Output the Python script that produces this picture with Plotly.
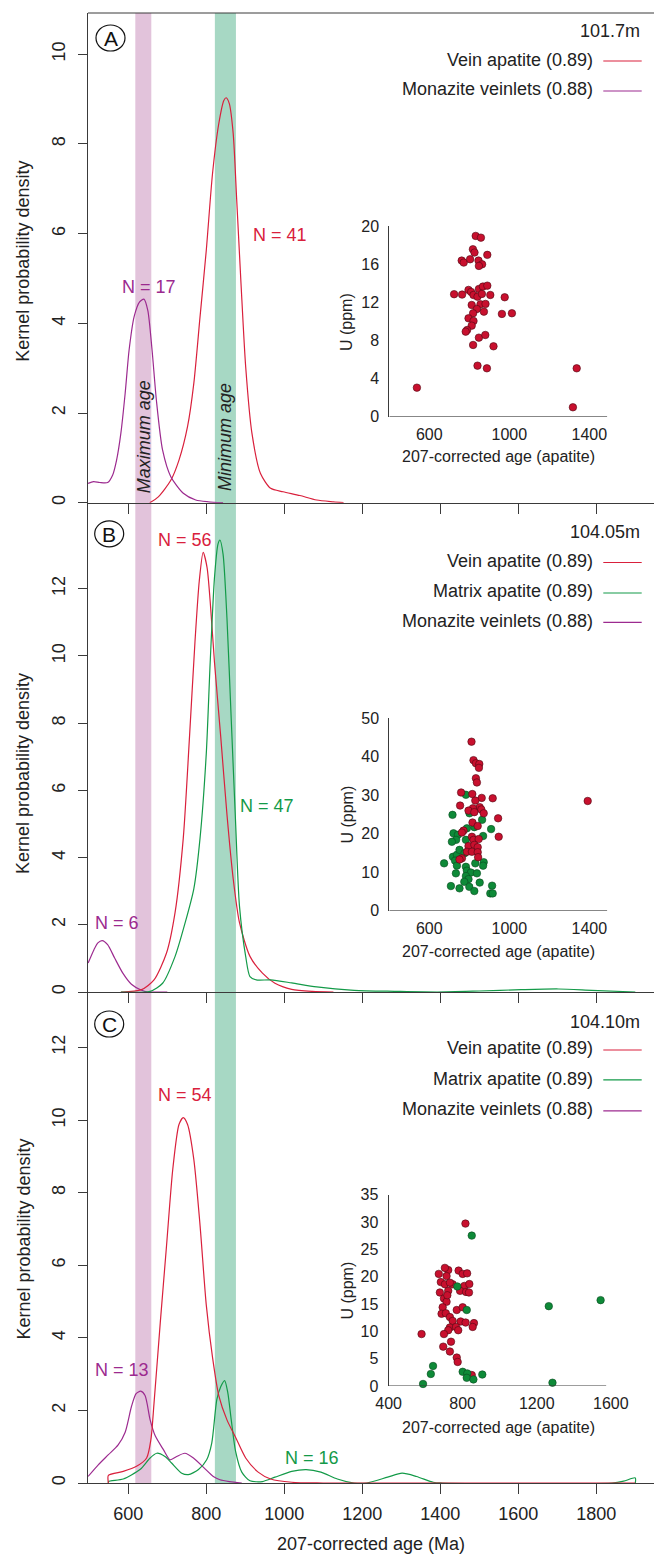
import plotly.graph_objects as go

# ---------------------------------------------------------------- data
# Kernel density curves (age in Ma, density)
a_vein_age = [655, 677, 709, 730, 752, 768, 784, 800, 816, 832, 845, 851, 859, 869, 878, 889, 901, 917, 939, 965, 997, 1040, 1083, 1126, 1152]
a_vein_dens = [0.0, 0.13, 0.5, 0.95, 1.7, 2.66, 4.15, 5.63, 7.34, 8.45, 8.97, 9.03, 8.9, 8.23, 6.75, 4.89, 3.03, 1.55, 0.65, 0.32, 0.245, 0.16, 0.06, 0.02, 0.0]
a_mnz_age = [497, 511, 527, 547, 560, 570, 581, 592, 602, 615, 629, 640, 650, 661, 672, 688, 709, 741, 773, 805, 843]
a_mnz_dens = [0.43, 0.47, 0.45, 0.45, 0.62, 0.95, 1.55, 2.44, 3.40, 4.15, 4.48, 4.54, 4.29, 3.40, 2.29, 1.17, 0.58, 0.21, 0.06, 0.02, 0.0]

b_vein_age = [581, 634, 666, 698, 720, 741, 757, 771, 782, 792, 802, 810, 821, 837, 853, 869, 885, 912, 944, 976, 1019, 1072, 1126]
b_vein_dens = [0.0, 0.07, 0.36, 1.16, 2.37, 4.58, 7.60, 10.42, 12.23, 13.08, 12.63, 11.62, 9.81, 7.60, 5.28, 3.37, 2.07, 1.06, 0.56, 0.26, 0.08, 0.02, 0.0]
b_mtx_age = [581, 656, 688, 720, 746, 768, 784, 800, 810, 821, 830, 835, 843, 853, 864, 875, 885, 901, 912, 928, 965, 1019, 1083, 1179, 1286, 1393, 1500, 1607, 1703, 1788, 1900]
b_mtx_dens = [0.0, 0.02, 0.26, 1.06, 2.07, 3.07, 4.58, 7.10, 9.81, 12.33, 13.33, 13.45, 13.03, 11.12, 8.10, 5.08, 2.57, 1.06, 0.46, 0.36, 0.36, 0.27, 0.15, 0.05, 0.02, 0.0, 0.03, 0.07, 0.09, 0.05, 0.0]
b_mnz_age = [497, 512, 522, 533, 547, 565, 586, 608, 634, 650, 700]
b_mnz_dens = [0.86, 1.26, 1.46, 1.53, 1.41, 1.01, 0.56, 0.23, 0.05, 0.0, 0.0]

c_vein_age = [549, 549, 587, 621, 647, 658, 666, 682, 698, 714, 730, 741, 752, 768, 784, 800, 816, 832, 853, 875, 901, 933, 965, 1019, 1100, 1900, 1900]
c_vein_dens = [0.0, 0.21, 0.32, 0.46, 0.69, 1.2, 2.2, 4.42, 6.53, 8.64, 9.88, 10.07, 9.88, 8.92, 7.10, 4.90, 3.46, 2.41, 1.74, 1.26, 0.69, 0.30, 0.11, 0.02, 0.0, 0.0, 0.0]
c_mtx_age = [549, 549, 587, 630, 656, 673, 694, 711, 737, 754, 780, 801, 814, 827, 837, 847, 855, 864, 875, 891, 912, 944, 976, 1019, 1056, 1094, 1136, 1179, 1211, 1265, 1302, 1339, 1382, 1404, 1840, 1870, 1900, 1900]
c_mtx_dens = [0.0, 0.04, 0.11, 0.37, 0.69, 0.82, 0.73, 0.55, 0.27, 0.23, 0.37, 0.64, 1.1, 2.3, 2.65, 2.82, 2.5, 1.74, 0.88, 0.30, 0.06, 0.04, 0.16, 0.32, 0.37, 0.30, 0.11, 0.0, 0.0, 0.16, 0.27, 0.18, 0.02, 0.0, 0.0, 0.05, 0.14, 0.0]
c_mnz_age = [497, 523, 549, 574, 592, 608, 620, 632, 643, 656, 669, 690, 707, 724, 745, 767, 795, 818, 835, 859, 891]
c_mnz_dens = [0.18, 0.5, 0.78, 1.05, 1.4, 2.1, 2.46, 2.53, 2.41, 1.74, 1.3, 0.92, 0.64, 0.73, 0.82, 0.69, 0.41, 0.18, 0.09, 0.04, 0.0]

# U concentration vs 207-corrected apatite age (inset scatter)
ia_vein_age = [832, 858, 818, 826, 890, 762, 772, 804, 846, 864, 848, 724, 764, 796, 809, 821, 841, 848, 868, 890, 863, 905, 977,
               812, 856, 881, 838, 819, 873, 963, 1013, 796, 821, 812, 789, 782, 848, 880, 819, 921, 841, 888, 538, 1337, 1318]
ia_vein_u = [18.98, 18.8, 17.58, 17.23, 16.99, 16.39, 16.18, 16.53, 16.39, 16.0, 15.83, 12.86, 12.82, 13.31, 13.1, 12.78, 12.6, 13.41,
             13.66, 13.76, 12.89, 12.78, 12.54, 11.73, 11.8, 11.84, 11.31, 10.86, 11.03, 10.79, 10.86, 10.33, 10.05, 9.56, 9.1, 8.93,
             8.3, 8.58, 7.53, 7.39, 5.36, 5.08, 3.05, 5.08, 0.99]

ib_vein_age = [811, 821, 833, 850, 848, 833, 838, 759, 815, 862, 917, 830, 754, 852, 818, 796, 860, 825, 872, 944, 816, 842, 771,
               763, 947, 813, 821, 847, 796, 825, 842, 788, 813, 842, 763, 751, 844, 1392]
ib_vein_u = [43.9, 39.1, 38.3, 38.1, 37.1, 34.4, 33.3, 30.7, 30.3, 29.3, 29.2, 28.6, 27.3, 26.9, 26.6, 26.0, 26.3, 25.6, 25.3, 24.0,
             22.9, 22.0, 20.8, 20.3, 19.2, 19.2, 18.4, 18.6, 16.8, 17.1, 16.5, 15.3, 15.3, 15.2, 13.6, 13.3, 13.9, 28.5]
ib_mtx_age = [783, 716, 801, 864, 788, 825, 909, 721, 743, 734, 869, 783, 718, 738, 751, 729, 674, 738, 783, 830, 872, 869, 788,
              733, 808, 838, 783, 796, 775, 852, 708, 800, 914, 751, 825, 905, 917, 713, 776]
ib_mtx_u = [30.1, 24.9, 25.3, 23.6, 21.4, 21.7, 21.2, 20.1, 19.7, 18.4, 19.4, 18.4, 14.0, 14.5, 15.8, 13.0, 12.3, 11.7, 11.4, 12.3,
            12.6, 11.7, 10.4, 9.7, 9.9, 9.7, 9.0, 8.2, 7.5, 7.3, 6.4, 6.2, 6.5, 5.8, 5.1, 4.5, 4.5, 17.9, 14.9]

ic_vein_age = [722, 704, 671, 713, 778, 800, 824, 682, 704, 746, 731, 809, 836, 677, 722, 786, 818, 834, 699, 713, 692, 768, 800,
               686, 709, 731, 746, 789, 816, 861, 854, 731, 764, 776, 722, 699, 578, 737, 695, 731, 768, 773, 849, 815, 717]
ic_vein_u = [21.2, 21.6, 20.5, 20.1, 21.1, 20.5, 20.6, 19.0, 18.6, 18.6, 18.9, 18.3, 18.65, 17.1, 17.4, 17.4, 17.2, 17.1, 16.0, 15.4,
             14.4, 13.9, 14.4, 13.2, 13.3, 12.6, 11.9, 11.8, 11.6, 11.5, 10.8, 10.7, 10.8, 10.2, 10.2, 9.5, 9.5, 8.1, 7.2, 6.3, 5.2,
             4.4, 2.0, 29.7, 16.6]
ic_mtx_age = [849, 771, 822, 1265, 1545, 640, 628, 586, 800, 825, 822, 858, 906, 1285]
ic_mtx_u = [27.5, 18.2, 13.9, 14.6, 15.7, 3.66, 2.2, 0.37, 2.6, 2.3, 1.5, 1.2, 2.1, 0.6]

# age windows (Ma)
max_age_band = [618, 659]
min_age_band = [822, 876]

age_ticks = [600, 800, 1000, 1200, 1400, 1600, 1800]
panel_labels = ["A", "B", "C"]
depths = ["101.7m", "104.05m", "104.10m"]
n_labels = {
    "A": [("N = 17", "mnz"), ("N = 41", "vein")],
    "B": [("N = 56", "vein"), ("N = 47", "mtx"), ("N = 6", "mnz")],
    "C": [("N = 54", "vein"), ("N = 13", "mnz"), ("N = 16", "mtx")],
}
legend_names = {"vein": "Vein apatite (0.89)", "mtx": "Matrix apatite (0.89)", "mnz": "Monazite veinlets (0.88)"}

# ---------------------------------------------------------------- layout helpers
W, H = 654, 1555
ML, MR, MT, MB = 88, 0, 13, 72
PW, PH = W - ML - MR, H - MT - MB


def px(x):
    return (x - ML) / PW


def py(y):
    return (H - MB - y) / PH


def clamp(v):
    return min(1.0, max(0.0, v))


FONT = "Liberation Sans, Arial, sans-serif"
AXIS = "#3a3a3a"
COL = {"vein": "#D9203C", "mtx": "#139A48", "mnz": "#9C2A8F"}
PT_FILL = {"vein": "#C8102E", "mtx": "#0E8A38"}
PT_EDGE = {"vein": "#4d0812", "mtx": "#0a4a20"}
PINK_BAND = "#E2C3DB"
GREEN_BAND = "#A7D8C4"

fig = go.Figure()

# main KDE panels: (x axis, y axis, y extent in px, y max, y ticks)
panels = {
    "A": ("x", "y", (12.7, 502.7), 10.92, [0, 2, 4, 6, 8, 10]),
    "B": ("x2", "y2", (502.7, 992.0), 14.56, [0, 2, 4, 6, 8, 10, 12]),
    "C": ("x3", "y3", (992.0, 1483.0), 13.53, [0, 2, 4, 6, 8, 10, 12]),
}
curves = {
    "A": [("vein", a_vein_age, a_vein_dens), ("mnz", a_mnz_age, a_mnz_dens)],
    "B": [("mnz", b_mnz_age, b_mnz_dens), ("vein", b_vein_age, b_vein_dens), ("mtx", b_mtx_age, b_mtx_dens)],
    "C": [("mnz", c_mnz_age, c_mnz_dens), ("mtx", c_mtx_age, c_mtx_dens), ("vein", c_vein_age, c_vein_dens)],
}
for key, (xa, ya, _, _, _) in panels.items():
    for kind, ages, dens in curves[key]:
        fig.add_trace(go.Scatter(x=ages, y=dens, xaxis=xa, yaxis=ya, mode="lines",
                                 line=dict(color=COL[kind], width=1.2, shape="spline", smoothing=0.7),
                                 hoverinfo="skip", showlegend=False))

AGE_RANGE = [496.7, 496.7 + PW / 0.39]
layout_axes = {}
for key, (xa, ya, (top, bot), ymax, yticks) in panels.items():
    xname = "xaxis" + ("" if xa == "x" else xa[1:])
    yname = "yaxis" + ("" if ya == "y" else ya[1:])
    layout_axes[xname] = dict(
        domain=[0, 1], range=AGE_RANGE, anchor=ya, showline=True, linecolor=AXIS, linewidth=1,
        ticks="outside", ticklen=10, tickwidth=1, tickcolor=AXIS, tickvals=age_ticks,
        showticklabels=(key == "C"), tickfont=dict(family=FONT, size=18, color="#222"),
        ticklabelstandoff=4, showgrid=False, zeroline=False, fixedrange=True)
    layout_axes[yname] = dict(
        domain=[clamp(py(bot)), clamp(py(top))], range=[0, ymax], anchor=xa, showline=True, linecolor=AXIS,
        linewidth=1, ticks="outside", ticklen=9, tickwidth=1, tickcolor=AXIS, tickvals=yticks,
        tickangle=-90, tickfont=dict(family=FONT, size=18, color="#222"), ticklabelstandoff=6,
        showgrid=False, zeroline=False, fixedrange=True)

# inset scatter plots: px box (left, right, top, bottom), x range, x line end, y range, ticks
insets = {
    "A": ("x4", "y4", (389.3, 607.3, 226.2, 416.7), [400, 1490], 1490, [0, 20], [600, 1000, 1400], [0, 4, 8, 12, 16, 20],
          [("vein", ia_vein_age, ia_vein_u)]),
    "B": ("x5", "y5", (389.3, 607.3, 718.2, 910.7), [400, 1490], 1490, [0, 50], [600, 1000, 1400], [0, 10, 20, 30, 40, 50],
          [("mtx", ib_mtx_age, ib_mtx_u), ("vein", ib_vein_age, ib_vein_u)]),
    "C": ("x6", "y6", (388.6, 610.8, 1194.6, 1386.0), [400, 1600], 1575, [0, 35], [400, 800, 1200, 1600],
          [0, 5, 10, 15, 20, 25, 30, 35], [("vein", ic_vein_age, ic_vein_u), ("mtx", ic_mtx_age, ic_mtx_u)]),
}
shapes = []
for key, (xa, ya, (l, r, t, b), xr, xend, yr, xt, yt, series) in insets.items():
    for kind, ages, u in series:
        fig.add_trace(go.Scatter(x=ages, y=u, xaxis=xa, yaxis=ya, mode="markers",
                                 marker=dict(size=7.5, color=PT_FILL[kind], line=dict(color=PT_EDGE[kind], width=0.6)),
                                 cliponaxis=False, hoverinfo="skip", showlegend=False))
    layout_axes["xaxis" + xa[1:]] = dict(
        domain=[clamp(px(l)), clamp(px(r))], range=xr, anchor=ya, showline=False, ticks="",
        tickvals=xt, tickfont=dict(family=FONT, size=16, color="#222"), ticklabelstandoff=6,
        showgrid=False, zeroline=False, fixedrange=True)
    layout_axes["yaxis" + ya[1:]] = dict(
        domain=[clamp(py(b)), clamp(py(t))], range=yr, anchor=xa, showline=True, linecolor=AXIS, linewidth=1,
        ticks="", tickvals=yt, tickfont=dict(family=FONT, size=16, color="#222"), ticklabelstandoff=6,
        showgrid=False, zeroline=False, fixedrange=True)
    # inset age axis line, running from the left edge to its end value
    shapes.append(dict(type="line", xref=xa, yref=ya, x0=xr[0], x1=xend, y0=yr[0], y1=yr[0],
                       line=dict(color=AXIS, width=1)))

# age windows spanning all three panels
for band, colr in ((max_age_band, PINK_BAND), (min_age_band, GREEN_BAND)):
    shapes.append(dict(type="rect", xref="x3", yref="paper", x0=band[0], x1=band[1], y0=0, y1=1,
                       fillcolor=colr, line=dict(width=0), layer="below"))
# top frame line
shapes.append(dict(type="line", xref="paper", yref="paper", x0=0, x1=1, y0=1, y1=1,
                   line=dict(color=AXIS, width=1)))

annotations = []


def text(s, x, y, size=18, color="#222", angle=0, xanchor="center", italic=False):
    annotations.append(dict(text=s, x=px(x), y=py(y), xref="paper", yref="paper", showarrow=False,
                            xanchor=xanchor, yanchor="middle", textangle=angle,
                            font=dict(family=FONT, size=size, color=color,
                                      style="italic" if italic else "normal")))


# circled panel letters
circle_pos = {"A": (110.5, 38.0), "B": (109.2, 533.8), "C": (109.2, 1024.0)}
for key, (cx, cy) in circle_pos.items():
    shapes.append(dict(type="circle", xref="paper", yref="paper", x0=px(cx - 14.5), x1=px(cx + 14.5),
                       y0=py(cy + 13), y1=py(cy - 13), line=dict(color="#111", width=1.2)))
    text(key, cx, cy + 0.5, size=21, color="#111")

# legends (depth + series lines)
legend_rows = {
    "A": (31.2, [("vein", 59.5, 61.0), ("mnz", 89.5, 91.0)]),
    "B": (532.0, [("vein", 560.9, 562.5), ("mtx", 591.3, 593.0), ("mnz", 620.7, 622.4)]),
    "C": (1022.0, [("vein", 1048.2, 1050.0), ("mtx", 1078.8, 1079.8), ("mnz", 1109.0, 1110.8)]),
}
for key, depth in zip(panel_labels, depths):
    ty, rows = legend_rows[key]
    text(depth, 641.7, ty, size=18, xanchor="right")
    for kind, yt_, yl in rows:
        text(legend_names[kind], 595, yt_, size=18, xanchor="right")
        shapes.append(dict(type="line", xref="paper", yref="paper", x0=px(603.3), x1=px(641.7),
                           y0=py(yl), y1=py(yl), line=dict(color=COL[kind], width=1.2)))

# N labels next to curves
n_pos = {
    "A": [(149, 287), (279.5, 235)],
    "B": [(185.4, 540), (267, 806), (116.7, 922.6)],
    "C": [(184.6, 1094.5), (121.9, 1370.4), (311.9, 1458.4)],
}
for key in panel_labels:
    for (label, kind), (x, y) in zip(n_labels[key], n_pos[key]):
        text(label, x, y, size=18, color=COL[kind])

# band captions
text("Maximum age", 143.5, 436.7, size=18, color="#222", angle=-90, italic=True)
text("Minimum age", 225.2, 436.7, size=18, color="#222", angle=-90, italic=True)

# axis titles
for cy in (261.7, 774.0, 1239.5):
    text("Kernel probability density", 23, cy, size=18, angle=-90)
text("207-corrected age (Ma)", 371, 1543.5, size=18)
for ty, uy in ((456.7, 322.5), (951.7, 815.0), (1427.5, 1291.0)):
    text("207-corrected age (apatite)", 498.5, ty, size=16)
    text("U (ppm)", 346.5, uy, size=16, angle=-90)

fig.update_layout(width=W, height=H, margin=dict(l=ML, r=MR, t=MT, b=MB, autoexpand=False),
                  paper_bgcolor="white", plot_bgcolor="rgba(0,0,0,0)", showlegend=False,
                  shapes=shapes, annotations=annotations, **layout_axes)

fig.write_html("out.html")
